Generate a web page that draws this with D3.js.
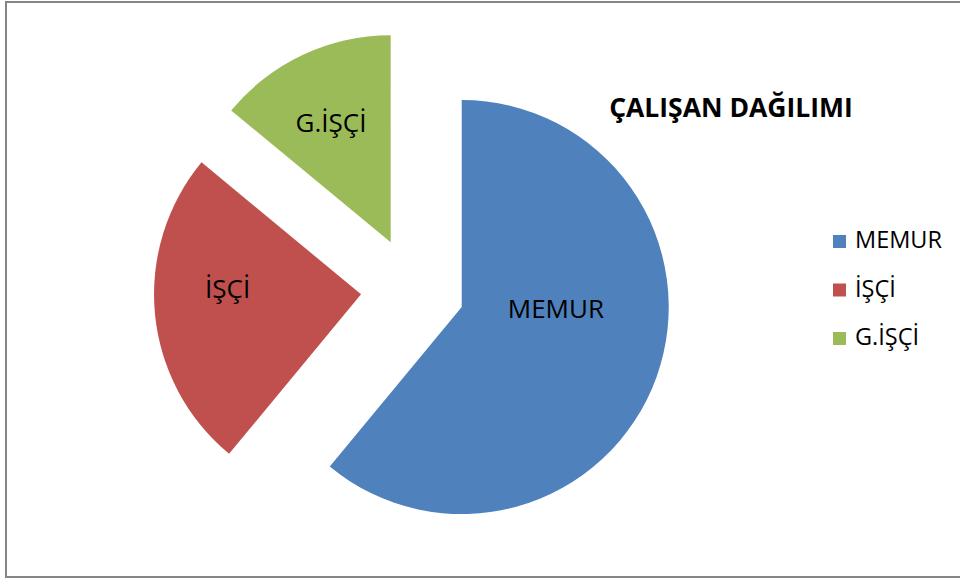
<!DOCTYPE html>
<html>
<head>
<meta charset="utf-8">
<script src="https://cdn.jsdelivr.net/npm/d3@7"></script>
<style>
  body { margin:0; background:#fff; }
  text { font-family: "Open Sans", "Noto Sans", sans-serif; }
</style>
</head>
<body>
<svg id="chart"></svg>
<script>
// data
var categories = ["MEMUR", "İŞÇİ", "G.İŞÇİ"];
var values = [61, 25, 14];
var colors = ["#4F81BD", "#C0504D", "#9BBB59"];
var title = "ÇALIŞAN DAĞILIMI";

var screen = {width:960, height:580};
var center = {x:412.8, y:289.4};
var radius = 207;
var explode = 52;

var svg = d3.select("#chart")
    .attr("width", screen.width)
    .attr("height", screen.height);

// chart border (right side runs off the picture)
svg.append("rect")
    .attr("x", 6).attr("y", 2)
    .attr("width", 970).attr("height", 575)
    .attr("fill", "none")
    .attr("stroke", "#868686")
    .attr("stroke-width", 2);

var slices = categories.map(function(c, i) { return {name:c, value:values[i], color:colors[i]}; });

var pie = d3.pie().sort(null).value(function(d) { return d.value; });
var arc = d3.arc().innerRadius(0).outerRadius(radius);
var labelArc = d3.arc().innerRadius(133).outerRadius(133);

// excel places the labels a bit off the centroid, nudge them
var labelNudge = [[-31, -43], [-1, -18], [-3, 1]];

var g = svg.append("g")
    .attr("transform", "translate(" + center.x + "," + center.y + ")");

var slice = g.selectAll(".slice")
    .data(pie(slices))
    .enter()
    .append("g")
    .attr("class", "slice")
    .attr("transform", function(d) {
        var mid = (d.startAngle + d.endAngle) / 2;
        return "translate(" + (explode * Math.sin(mid)) + "," + (-explode * Math.cos(mid)) + ")";
    });

slice.append("path")
    .attr("d", arc)
    .attr("fill", function(d) { return d.data.color; });

slice.append("text")
    .attr("transform", function(d, i) {
        var c = labelArc.centroid(d);
        return "translate(" + (c[0] + labelNudge[i][0]) + "," + (c[1] + labelNudge[i][1]) + ")";
    })
    .attr("text-anchor", "middle")
    .attr("dy", "0.35em")
    .attr("font-size", 26)
    .attr("fill", "#000")
    .text(function(d) { return d.data.name; });

// title
svg.append("text")
    .attr("x", 731).attr("y", 116.5)
    .attr("text-anchor", "middle")
    .attr("font-size", 26.5)
    .attr("font-weight", "bold")
    .text(title);

// legend
var legend = svg.append("g")
    .attr("transform", "translate(833,248)");

var item = legend.selectAll(".item")
    .data(slices)
    .enter()
    .append("g")
    .attr("class", "item")
    .attr("transform", function(d, i) { return "translate(0," + (i * 48.5) + ")"; });

item.append("rect")
    .attr("x", 0).attr("y", -13)
    .attr("width", 13).attr("height", 13)
    .attr("fill", function(d) { return d.color; });

item.append("text")
    .attr("x", 22).attr("y", 0)
    .attr("font-size", 23.5)
    .text(function(d) { return d.name; });
</script>
</body>
</html>
